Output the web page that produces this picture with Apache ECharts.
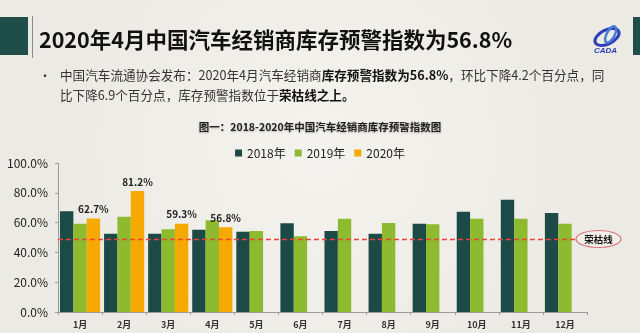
<!DOCTYPE html>
<html><head><meta charset="utf-8">
<script src="https://cdn.jsdelivr.net/npm/echarts@6/dist/echarts.min.js"></script>
<style>html,body{margin:0;padding:0;background:#efeee9;}#c{width:640px;height:333px;}</style>
</head><body><div id="c"></div>
<script>
const categories = ['1月','2月','3月','4月','5月','6月','7月','8月','9月','10月','11月','12月'];
const seriesNames = ['2018年','2019年','2020年'];
const data2018 = [67.6,52.5,52.5,55.2,53.9,59.5,54.4,52.5,59.3,67.3,75.4,66.4];
const data2019 = [59.3,64.0,55.5,61.5,54.4,50.8,62.6,59.7,58.9,62.6,62.6,59.3];
const data2020 = [62.7,81.2,59.3,56.8,null,null,null,null,null,null,null,null];
const yTicks = [0,20,40,60,80,100];
const boomLine = 49;
const colors = ['#1b4a47','#8dba2e','#f6a900'];
const lineColor = '#ec4436';
const font = '"Noto Sans CJK SC", "Noto Sans", sans-serif';

const chart = echarts.init(document.getElementById('c'), null, {renderer:'canvas'});
const seriesData = [data2018, data2019, data2020];
const series = seriesNames.map((n,i)=>({
  name:n, type:'bar', data:seriesData[i], barGap:'0%', barCategoryGap:'9%',
  itemStyle:{color:colors[i]},
  label: i===2 ? {show:true, position:'top', formatter:p=>p.value.toFixed(1)+'%', fontSize:10, fontWeight:'bold', color:'#222', fontFamily:font, distance:4} : {show:false}
}));
series.push({
  name:'荣枯线', type:'bar', xAxisIndex:1, yAxisIndex:1, data:categories.map(()=>null),
  itemStyle:{color:lineColor}, silent:true,
  markLine:{symbol:['none','none'], silent:true, label:{show:false},
    lineStyle:{color:lineColor, type:[5,3], width:1.4, opacity:1},
    data:[{yAxis:boomLine}]}
});

chart.setOption({
  backgroundColor:{type:'radial', x:0.5, y:0.45, r:0.8, colorStops:[{offset:0,color:'#f4f3ef'},{offset:1,color:'#ebeae4'}]},
  textStyle:{fontFamily:font},
  grid:[{left:58, right:53, top:163, bottom:21},{left:58, right:64, top:163, bottom:21}],
  legend:{data:seriesNames, top:142, left:'center', itemWidth:7, itemHeight:7, itemGap:9,
    textStyle:{fontSize:12, color:'#222', fontFamily:font}, icon:'rect'},
  xAxis:[{type:'category', data:categories, gridIndex:0,
    axisLine:{lineStyle:{color:'#9a9a9a'}},
    axisTick:{show:true, length:3, lineStyle:{color:'#9a9a9a'}},
    axisLabel:{fontSize:9, color:'#333', fontWeight:'bold', margin:8}},
    {type:'category', data:categories, gridIndex:1, show:false}],
  yAxis:[{type:'value', min:0, max:100, interval:20, gridIndex:0,
    axisLine:{show:true, lineStyle:{color:'#9a9a9a'}},
    axisTick:{show:true, length:3, lineStyle:{color:'#9a9a9a'}},
    splitLine:{show:false},
    axisLabel:{fontSize:12, color:'#222', margin:10, formatter:v=>yTicks.includes(v)? v.toFixed(1)+'%' : ''}},
    {type:'value', min:0, max:100, interval:20, gridIndex:1, show:false, splitLine:{show:false}}],
  series:series,
  graphic:[
    {type:'rect', shape:{x:0,y:17,width:28,height:38}, style:{fill:'#1f4e49'}},
    {type:'rect', shape:{x:32,y:16,width:1,height:42}, style:{fill:'#8a8a8a'}},
    {type:'rect', shape:{x:633,y:17,width:7,height:38}, style:{fill:'#1f4e49'}},
    {type:'text', left:39, top:29, style:{text:'2020年4月中国汽车经销商库存预警指数为56.8%', font:'bold 21.5px '+font, fill:'#111'}},
    {type:'text', left:39, top:70, style:{text:'•', font:'12px '+font, fill:'#333'}},
    {type:'text', left:60, top:69, style:{
      text:'中国汽车流通协会发布：2020年4月汽车经销商{b|库存预警指数为56.8%}，环比下降4.2个百分点，同',
      font:'12.6px '+font, fill:'#333',
      rich:{b:{fontWeight:'bold', fontSize:12.6, fill:'#111', fontFamily:font}}}},
    {type:'text', left:60, top:89, style:{
      text:'比下降6.9个百分点，库存预警指数位于{b|荣枯线之上。}',
      font:'12.6px '+font, fill:'#333',
      rich:{b:{fontWeight:'bold', fontSize:12.6, fill:'#111', fontFamily:font}}}},
    {type:'text', left:'center', top:122, style:{text:'图一：2018-2020年中国汽车经销商库存预警指数图', font:'bold 10.5px '+font, fill:'#222', textShadowColor:'rgba(0,0,0,0.25)', textShadowBlur:2, textShadowOffsetY:1}},
    {type:'ellipse', shape:{cx:598.5, cy:239, rx:22.5, ry:8.5}, style:{fill:'#f0efea', stroke:'#d9737c', lineWidth:1.2}, z:100},
    {type:'text', x:598.5, y:239, style:{text:'荣枯线', font:'bold 9.5px '+font, fill:'#111', align:'center', verticalAlign:'middle'}, z:101},
    {type:'group', x:607, y:37, children:[
      {type:'ellipse', shape:{cx:0,cy:0,rx:13,ry:7}, rotation:0.45, style:{fill:'none', stroke:'#2f3fb8', lineWidth:3}},
      {type:'ellipse', shape:{cx:2,cy:-4,rx:4,ry:9}, rotation:-0.5, style:{fill:'none', stroke:'#4a7ad6', lineWidth:2.5}},
      {type:'text', x:-13, y:10, style:{text:'CADA', font:'italic bold 8px sans-serif', fill:'#2f3fb8'}}
    ]}
  ]
});
</script></body></html>
